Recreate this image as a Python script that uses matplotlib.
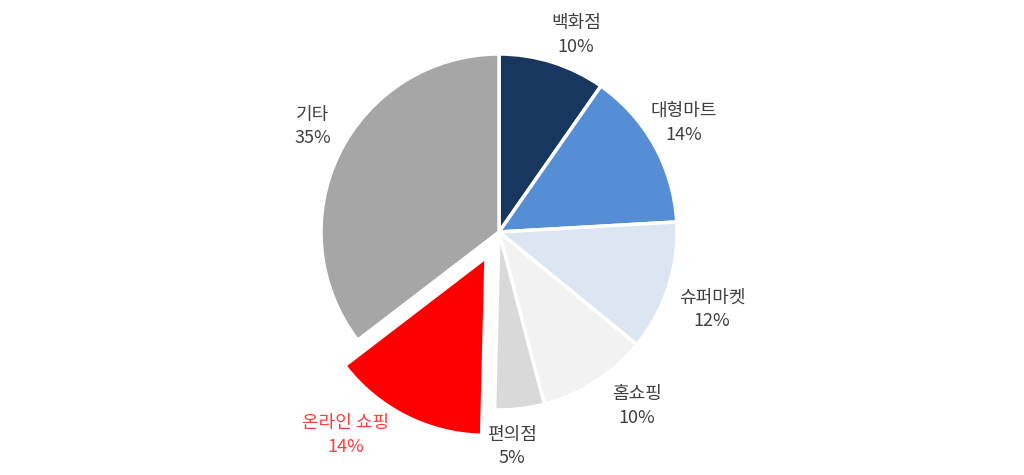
import matplotlib
matplotlib.use("Agg")
import matplotlib.pyplot as plt
import numpy as np

plt.rcParams['font.family'] = ['Noto Sans CJK KR', 'DejaVu Sans']

categories = ['백화점', '대형마트', '슈퍼마켓', '홈쇼핑', '편의점', '온라인 쇼핑', '기타']
shares = [9.7, 14.4, 11.8, 10.0, 4.5, 14.2, 35.4]
colors = ['#17375E', '#558ED5', '#DCE6F2', '#F2F2F2', '#D9D9D9', '#FF0000', '#A6A6A6']
explode_frac = [0, 0, 0, 0, 0, 0.16, 0]
label_colors = ['#404040'] * 7
label_colors[5] = '#FF3B3B'

# label placement (Excel "best fit"-like): radial distance and angular nudge
label_dist = [1.187, 1.203, 1.273, 1.248, 1.207, 1.273, 1.204]
label_nudge = [-3.9, 1.4, -2.0, 5.6, -3.2, -11.4, -3.2]

R = 178
C = (499, 243)

fig = plt.figure(figsize=(10.24, 4.75), dpi=100)
ax = fig.add_axes([0, 0, 1, 1])

labels = [f'{c}\n{int(np.floor(s + 0.5))}%' for c, s in zip(categories, shares)]
wedges, texts = ax.pie(shares, labels=labels, colors=colors,
                       explode=[e * R for e in explode_frac],
                       startangle=90, counterclock=False, center=C, radius=R,
                       labeldistance=1.22,
                       wedgeprops=dict(edgecolor='white', linewidth=2.5),
                       textprops=dict(fontsize=13, linespacing=1.42))
for w, t, col, d, n in zip(wedges, texts, label_colors, label_dist, label_nudge):
    th = np.deg2rad((w.theta1 + w.theta2) / 2 + n)
    cx, cy = w.center
    t.set_position((cx + d * R * np.cos(th), cy + d * R * np.sin(th)))
    t.set_ha('center')
    t.set_va('center')
    t.set_color(col)

ax.set_xlim(0, 1024)
ax.set_ylim(0, 475)
ax.set_aspect('equal')
ax.axis('off')

fig.savefig('out.png', dpi=100)
